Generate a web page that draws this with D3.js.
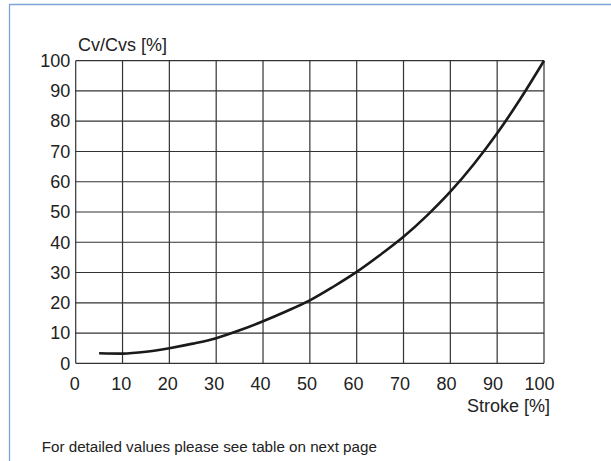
<!DOCTYPE html>
<html>
<head>
<meta charset="utf-8">
<script src="https://cdn.jsdelivr.net/npm/d3@7"></script>
<style>
  html, body { margin: 0; padding: 0; background: #fff; }
  svg { display: block; }
  text { font-family: "Liberation Sans", Arial, Helvetica, sans-serif; fill: #222; }
</style>
</head>
<body>
<svg id="chart" width="611" height="461"></svg>
<script>
// Data
const strokeValues = [5, 10, 15, 20, 25, 30, 35, 40, 45, 50, 55, 60, 65, 70, 75, 80, 85, 90, 95, 100];
const cvValues     = [3.3, 3.2, 3.8, 5.0, 6.5, 8.3, 10.9, 13.9, 17.2, 20.8, 25.3, 30.2, 35.8, 41.8, 48.8, 56.7, 65.8, 76.0, 87.5, 100];
const xTicks = [0, 10, 20, 30, 40, 50, 60, 70, 80, 90, 100];
const yTicks = [0, 10, 20, 30, 40, 50, 60, 70, 80, 90, 100];
const yAxisTitle = "Cv/Cvs [%]";
const xAxisTitle = "Stroke [%]";
const footnote = "For detailed values please see table on next page";

const svg = d3.select("#chart");

// frame lines (light blue)
svg.append("line").attr("x1", 9.5).attr("x2", 9.5).attr("y1", 4.5).attr("y2", 461)
  .attr("stroke", "#7fa3d9").attr("stroke-width", 1.3);
svg.append("line").attr("x1", 9).attr("x2", 611).attr("y1", 4.5).attr("y2", 4.5)
  .attr("stroke", "#7fa3d9").attr("stroke-width", 1.3);

const x = d3.scaleLinear().domain([0, 100]).range([75.7, 544]);
const y = d3.scaleLinear().domain([0, 100]).range([363.3, 60.7]);
const xLabel = d3.scaleLinear().domain([0, 100]).range([74.2, 539]);

// grid
const grid = svg.append("g").attr("stroke", "#333").attr("stroke-width", 1.2);
grid.selectAll("line.v").data(xTicks).join("line")
  .attr("class", "v")
  .attr("x1", d => x(d)).attr("x2", d => x(d))
  .attr("y1", y(0)).attr("y2", y(100));
grid.selectAll("line.h").data(yTicks).join("line")
  .attr("class", "h")
  .attr("x1", x(0)).attr("x2", x(100))
  .attr("y1", d => y(d)).attr("y2", d => y(d));

// axes labels via d3 axes (domain/ticks hidden)
const xAxis = svg.append("g")
  .attr("transform", `translate(0,${y(0)})`)
  .call(d3.axisBottom(xLabel).tickValues(xTicks).tickSize(0).tickPadding(14).tickFormat(d3.format("d")));
xAxis.select(".domain").remove();
xAxis.selectAll("text").attr("font-size", 18).attr("fill", "#222")
  .attr("font-family", "Liberation Sans, Arial, sans-serif");

const yAxis = svg.append("g")
  .attr("transform", `translate(${x(0) - 5.5},0)`)
  .call(d3.axisLeft(y).tickValues(yTicks).tickSize(0).tickPadding(0).tickFormat(d3.format("d")));
yAxis.select(".domain").remove();
yAxis.selectAll("text").attr("font-size", 18).attr("fill", "#222")
  .attr("font-family", "Liberation Sans, Arial, sans-serif");

// curve
const line = d3.line()
  .x((d, i) => x(strokeValues[i]))
  .y(d => y(d))
  .curve(d3.curveMonotoneX);
svg.append("path")
  .datum(cvValues)
  .attr("d", line)
  .attr("fill", "none")
  .attr("stroke", "#1a1a1a")
  .attr("stroke-width", 2.6)
  .attr("stroke-linecap", "butt");

// titles
svg.append("text").attr("x", 78).attr("y", 51).attr("font-size", 18).text(yAxisTitle);
svg.append("text").attr("x", 550).attr("y", 411.5).attr("text-anchor", "end").attr("font-size", 18).text(xAxisTitle);
svg.append("text").attr("x", 41.7).attr("y", 452.3).attr("font-size", 15.2).text(footnote);
</script>
</body>
</html>
